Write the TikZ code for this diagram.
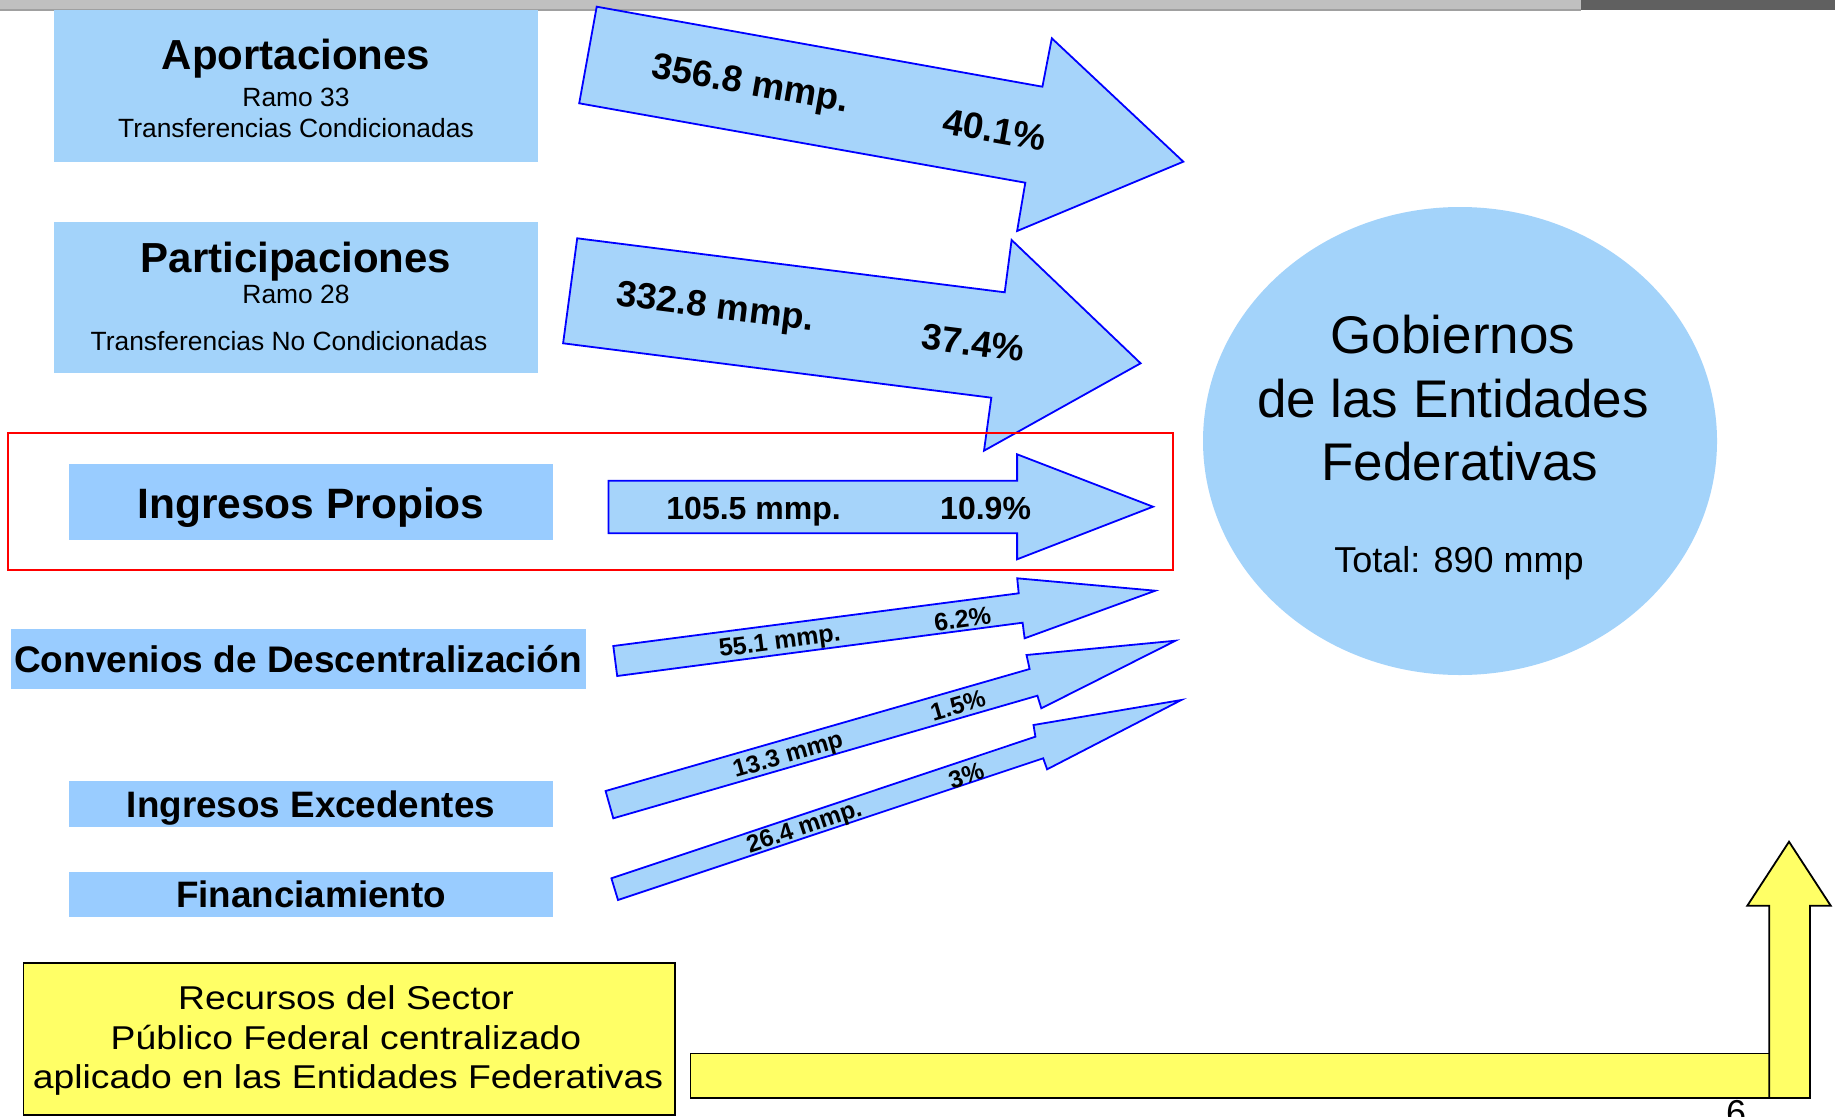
\documentclass[tikz,border=0pt]{standalone}
\usepackage{fontspec}
\setmainfont{Liberation Sans}
\newfontfamily\widefont[FakeStretch=1.13]{Liberation Sans}
\usetikzlibrary{shapes.geometric}
\definecolor{boxblue}{HTML}{A3D3FA}
\definecolor{boxbluetwo}{HTML}{99CCFF}
\definecolor{arrblue}{HTML}{A6D4FA}
\definecolor{ybox}{HTML}{FFFF66}
\definecolor{topgray}{HTML}{C0C0C0}
\definecolor{topline}{HTML}{A0A0A0}
\definecolor{topdark}{HTML}{606060}
\tikzset{
  fs/.style={font=\fontsize{#1}{#1}\selectfont},
  fsb/.style={font=\fontsize{#1}{#1}\selectfont\bfseries},
  fsw/.style={font=\widefont\fontsize{#1}{#1}\selectfont},
  lbl/.style={inner sep=0pt, anchor=base},
  mid/.style={inner sep=0pt, anchor=center},
  srcbox/.style={fill=boxblue, draw=none, inner sep=0pt},
  srcboxtwo/.style={fill=boxbluetwo, draw=none, inner sep=0pt},
  blockarrow/.style={fill=arrblue, draw=blue, line width=1.8pt, line join=miter},
  yshape/.style={fill=ybox, draw=black, line width=1.8pt, line join=miter},
}
\begin{document}
\begin{tikzpicture}[x=1pt,y=-1pt]
\useasboundingbox (0,0) rectangle (1835,1116);
\clip (0,0) rectangle (1835,1116);
% top bar
\fill[topgray] (0,0) rectangle (1581,9.3);
\fill[topline] (0,9.3) rectangle (1581,10.8);
\fill[topdark] (1581,0) rectangle (1835,10.5);

% source boxes
\node[srcbox, minimum width=484, minimum height=152] (apo) at (296,86) {};
\node[fsb=42, lbl] (apot) at (296,70) {Aportaciones};
\node[fs=26.4, lbl] (apor) at (296,106) {Ramo 33};
\node[fs=26.4, lbl] (apotr) at (296,137) {Transferencias Condicionadas};

\node[srcbox, minimum width=484, minimum height=151] (par) at (296,297.5) {};
\node[fsb=42, lbl] (part) at (296,272) {Participaciones};
\node[fs=26.4, lbl] (parr) at (296,303) {Ramo 28};
\node[fs=26.4, lbl] (partr) at (289,350) {Transferencias No Condicionadas};

\node[srcboxtwo, minimum width=484, minimum height=76] (ing) at (311,502) {};
\node[fsb=42.5, lbl] (ingt) at (311,518) {Ingresos Propios};

\node[srcboxtwo, minimum width=574.5, minimum height=60] (con) at (298.25,659) {};
\node[fsb=37, lbl] (cont) at (298,672) {Convenios de Descentralización};

\node[srcboxtwo, minimum width=484, minimum height=46] (exc) at (311,804) {};
\node[fsb=36.8, lbl] (exct) at (311,817) {Ingresos Excedentes};

\node[srcboxtwo, minimum width=484, minimum height=45] (fin) at (311,894.5) {};
\node[fsb=36.8, lbl] (fint) at (311,907) {Financiamiento};

% target ellipse
\node[ellipse, fill=boxblue, draw=none, minimum width=514, minimum height=468, inner sep=0pt] (gob) at (1460,441) {};
\node[fs=53, lbl] (gob1) at (1453,353) {Gobiernos};
\node[fs=53, lbl] (gob2) at (1453,417) {de las Entidades};
\node[fs=53, lbl] (gob3) at (1460,480) {Federativas};
\node[fs=36, lbl] (gobt) at (1459,572) {Total: 890 mmp};

% block arrows
\draw[blockarrow] (596.7,6.7) -- (1042.4,86.7) -- (1051.8,38.3) -- (1183.3,161.7)
  -- (1017.1,231) -- (1025.3,182.7) -- (579.2,103.3) -- cycle;
\node[fsb=36.7, mid, rotate=-10] (a1v) at (750,86) {356.8 mmp.};
\node[fsb=36.7, mid, rotate=-10] (a1p) at (995,130) {40.1\%};

\draw[blockarrow] (577.2,238.3) -- (1004.7,292.3) -- (1011.6,240) -- (1140.6,363.3)
  -- (984,450.7) -- (991.3,397.7) -- (563.1,343.3) -- cycle;
\node[fsb=36.5, mid, rotate=-7.2] (a2v) at (715,309) {332.8 mmp.};
\node[fsb=36.5, mid, rotate=-7.2] (a2p) at (973,343) {37.4\%};

\draw[blockarrow] (608.4,480.7) -- (1017.1,480.7) -- (1017.1,454.3) -- (1153,506.7)
  -- (1017.1,559.3) -- (1017.1,533.3) -- (608.4,533.3) -- cycle;
\node[fsb=32, lbl] (a3v) at (753.6,519.3) {105.5 mmp.};
\node[fsb=32, lbl] (a3p) at (985.6,519.3) {10.9\%};

\draw[blockarrow] (613.3,646) -- (1018.7,593.3) -- (1017.2,578.3) -- (1155.3,590.7)
  -- (1024.6,638.3) -- (1022.6,622.7) -- (617.2,676) -- cycle;
\node[fsb=25, mid, rotate=7.4] (a4v) at (780,643) {55.1 mmp.};
\node[fsb=25, mid, rotate=7.4] (a4p) at (962.5,619) {6.2\%};

\draw[blockarrow] (605.6,791) -- (1029.6,669) -- (1026.5,655) -- (1175.5,640.7)
  -- (1041.3,708.3) -- (1037.4,695.7) -- (613.3,818.3) -- cycle;
\node[fsb=24.5, mid, rotate=16] (a5v) at (788.4,756.5) {13.3 mmp};
\node[fsb=24.5, mid, rotate=16] (a5p) at (958,705.5) {1.5\%};

\draw[blockarrow] (611.4,878.3) -- (1035.4,736.7) -- (1033.5,725) -- (1181.3,700)
  -- (1047.1,769.3) -- (1043.2,758.3) -- (618,900) -- cycle;
\node[fsb=24.5, mid, rotate=18.5] (a6v) at (804.7,828.3) {26.4 mmp.};
\node[fsb=24.5, mid, rotate=18.5] (a6p) at (966.2,775.7) {3\%};

% highlight frame
\node[draw=red, line width=2pt, fill=none, minimum width=1165, minimum height=137, inner sep=0pt] (focus) at (590.5,501.5) {};

% yellow elements
\node[yshape, minimum width=651.6, minimum height=152, inner sep=0pt] (rec) at (349.2,1039) {};
\node[fsw=33, lbl] (rec1) at (346,1009) {Recursos del Sector};
\node[fsw=33, lbl] (rec2) at (346,1049.3) {Público Federal centralizado};
\node[fsw=33, lbl] (rec3) at (348,1088.5) {aplicado en las Entidades Federativas};

\node[yshape, minimum width=1079, minimum height=44.5, inner sep=0pt] (bar) at (1229.9,1075.8) {};
\draw[yshape] (1769.3,1098) -- (1769.3,905.7) -- (1747.3,905.7) -- (1789,841.7)
  -- (1830.7,905.7) -- (1810,905.7) -- (1810,1098) -- cycle;

\node[fs=36, inner sep=0pt, anchor=north] (pg) at (1736,1100) {6};
\end{tikzpicture}
\end{document}
